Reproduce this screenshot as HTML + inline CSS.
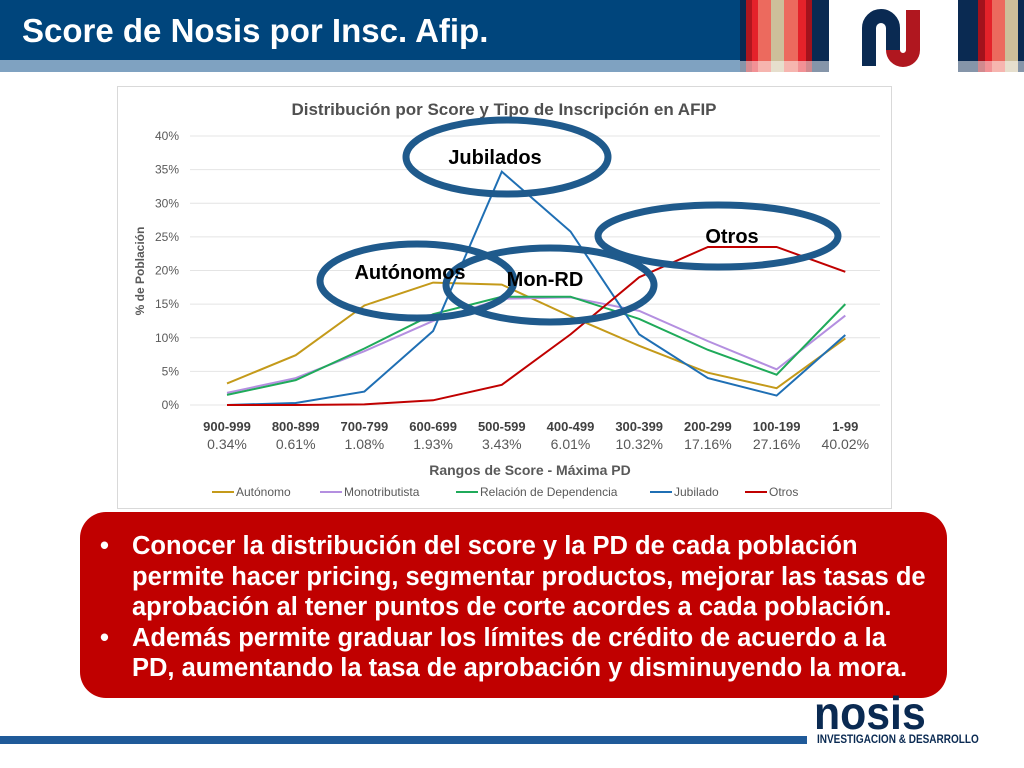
<!DOCTYPE html>
<html><head><meta charset="utf-8"><style>
body{margin:0;width:1024px;height:768px;overflow:hidden;background:#fff;font-family:"Liberation Sans",sans-serif;position:relative}
.abs{position:absolute}
</style></head><body>
<div class="abs" style="left:0;top:0;width:1024px;height:60px;background:#00457c"></div>
<div class="abs" style="left:0;top:60px;width:1024px;height:12px;background:#7fa2c1"></div>
<div class="abs" style="left:22px;top:12px;font-size:33px;font-weight:bold;color:#fff">Score de Nosis por Insc. Afip.</div>
<svg class="abs" style="left:0;top:0" width="1024" height="72">
<g>
<rect x="740" y="0" width="6" height="72" fill="#0a2a52"/><rect x="746" y="0" width="6" height="72" fill="#b0171f"/><rect x="752" y="0" width="6" height="72" fill="#e4222a"/><rect x="758" y="0" width="13" height="72" fill="#ec6a5e"/><rect x="771" y="0" width="13" height="72" fill="#cdbf9a"/><rect x="784" y="0" width="14" height="72" fill="#ec6a5e"/><rect x="798" y="0" width="8" height="72" fill="#e4222a"/><rect x="806" y="0" width="6" height="72" fill="#a3121c"/><rect x="812" y="0" width="17" height="72" fill="#0a2a52"/>
<rect x="829" y="0" width="129" height="72" fill="#fff"/>
<rect x="958" y="0" width="20" height="72" fill="#0a2a52"/><rect x="978" y="0" width="7" height="72" fill="#a3121c"/><rect x="985" y="0" width="7" height="72" fill="#e4222a"/><rect x="992" y="0" width="13" height="72" fill="#ec6a5e"/><rect x="1005" y="0" width="13" height="72" fill="#cdbf9a"/><rect x="1018" y="0" width="6" height="72" fill="#0a2a52"/>
<rect x="740" y="61" width="89" height="11" fill="#fff" opacity="0.5"/><rect x="958" y="61" width="66" height="11" fill="#fff" opacity="0.5"/>
</g>
<path d="M869 66 V28 A12 12 0 0 1 893 28 V50" fill="none" stroke="#0a2a52" stroke-width="14"/>
<path d="M913 10 V50 A10 10 0 0 1 893 50" fill="none" stroke="#b0171f" stroke-width="14"/>
</svg>

<div class="abs" style="left:117px;top:86px;width:773px;height:421px;border:1px solid #d9d9d9;background:#fff"></div>
<svg class="abs" id="chart" style="left:0;top:0" width="1024" height="520"></svg>

<div class="abs" style="left:80px;top:512px;width:867px;height:186px;background:#c00000;border-radius:26px"></div>
<div class="abs" style="left:100px;top:531px;width:840px;color:#fff;font-weight:bold;font-size:25.5px;line-height:30.5px;white-space:nowrap">
<div style="position:relative;padding-left:32px"><span style="position:absolute;left:0">•</span>Conocer la distribución del score y la PD de cada población<br>permite hacer pricing, segmentar productos, mejorar las tasas de<br>aprobación al tener puntos de corte acordes a cada población.</div>
<div style="position:relative;padding-left:32px"><span style="position:absolute;left:0">•</span>Además permite graduar los límites de crédito de acuerdo a la<br>PD, aumentando la tasa de aprobación y disminuyendo la mora.</div>
</div>

<div class="abs" style="left:0;top:736px;width:807px;height:8px;background:#1f5a99"></div>
<div class="abs" style="left:814px;top:690px;font-size:46px;line-height:46px;font-weight:bold;color:#0a2a52;transform:scaleX(0.93);transform-origin:left">nosis</div>
<div class="abs" style="left:817px;top:734px;font-size:11.5px;font-weight:bold;color:#0a2a52;transform:scaleX(0.87);transform-origin:left;white-space:nowrap">INVESTIGACION &amp; DESARROLLO</div>

<script>
const categories=["900-999","800-899","700-799","600-699","500-599","400-499","300-399","200-299","100-199","1-99"];
const pdLabels=["0.34%","0.61%","1.08%","1.93%","3.43%","6.01%","10.32%","17.16%","27.16%","40.02%"];
const yTicks=[0,5,10,15,20,25,30,35,40];
const autonomo=[3.2,7.4,14.8,18.2,17.9,13.2,8.8,4.8,2.5,9.9];
const monotributista=[1.8,4.0,8.0,12.5,15.8,16.0,14.0,9.5,5.3,13.3];
const relacion=[1.5,3.7,8.4,13.5,16.1,16.1,12.8,8.2,4.5,15.0];
const jubilado=[0,0.3,2.0,11.0,34.7,25.8,10.5,4.0,1.4,10.4];
const otros=[0,0,0.1,0.7,3.0,10.5,19.0,23.5,23.5,19.8];
const seriesNames=["Autónomo","Monotributista","Relación de Dependencia","Jubilado","Otros"];

const svg=document.getElementById('chart');
const NS="http://www.w3.org/2000/svg";
const x=i=>227+i*68.7;
const y=v=>405-v*6.725;
function mk(t,a,txt){const e=document.createElementNS(NS,t);for(const k in a)e.setAttribute(k,a[k]);if(txt!=null)e.textContent=txt;svg.appendChild(e);return e;}
const F='"Liberation Sans",sans-serif';
let t=mk('text',{x:504,y:115,'text-anchor':'middle','font-size':17,'font-weight':'bold',fill:'#505050','font-family':F},'Distribución por Score y Tipo de Inscripción en AFIP');

yTicks.forEach(v=>{
 let g=mk('line',{x1:190,x2:880,y1:y(v),y2:y(v),stroke:'#e4e4e4','stroke-width':1});
 
 let l=mk('text',{x:179,y:y(v)+4,'text-anchor':'end','font-size':12,fill:'#595959','font-family':F},v+'%');
 
});
let yt=mk('text',{x:144,y:271,'text-anchor':'middle','font-size':12,'font-weight':'bold',fill:'#595959','font-family':F,transform:'rotate(-90 144 271)'},'% de Población');

categories.forEach((c,i)=>{
 let a=mk('text',{x:x(i),y:431,'text-anchor':'middle','font-size':13,'font-weight':'bold',fill:'#404040','font-family':F},c);
 
 let b=mk('text',{x:x(i),y:449,'text-anchor':'middle','font-size':14,fill:'#595959','font-family':F},pdLabels[i]);
 
});
let xt=mk('text',{x:530,y:475,'text-anchor':'middle','font-size':14,'font-weight':'bold',fill:'#595959','font-family':F},'Rangos de Score - Máxima PD');

const data=[autonomo,monotributista,relacion,jubilado,otros];
const colors=['#c49a1a','#b48fe0','#1faa5a','#1f6fb4','#c00000'];
data.forEach((d,s)=>{
 let p=mk('polyline',{points:d.map((v,i)=>x(i)+','+y(v)).join(' '),fill:'none',stroke:colors[s],'stroke-width':2});
 
});
const legX=[212,320,456,650,745];
seriesNames.forEach((n,i)=>{
 let g=mk('line',{x1:legX[i],x2:legX[i]+22,y1:492,y2:492,stroke:colors[i],'stroke-width':2});
 
 let l=mk('text',{x:legX[i]+24,y:496,'font-size':12,fill:'#595959','font-family':F},n);
 
});
const ell=[[507,157,101,37,'Jubilados',495,164],[417,281,97,37,'Autónomos',410,279],[550,285,104,37,'Mon-RD',545,286],[718,236,120,31,'Otros',732,243]];
ell.forEach(e=>{
 let o=mk('ellipse',{cx:e[0],cy:e[1],rx:e[2],ry:e[3],fill:'none',stroke:'#1f5a8c','stroke-width':7});
 
});
ell.forEach(e=>{
 let l=mk('text',{x:e[5],y:e[6],'text-anchor':'middle','font-size':20,'font-weight':'bold',fill:'#000','font-family':F},e[4]);
 
});
</script>
</body></html>
